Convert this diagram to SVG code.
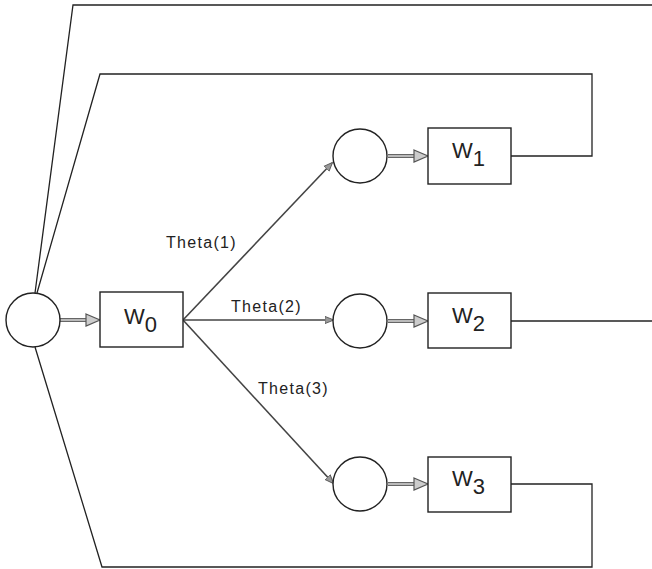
<svg xmlns="http://www.w3.org/2000/svg" width="652" height="569" viewBox="0 0 652 569">
  <style>
    .node { fill: #fff; stroke: #222; stroke-width: 1.4; }
    .wire { fill: none; stroke: #222; stroke-width: 1.3; }
    .theta { fill: none; stroke: #444; stroke-width: 1.6; }
    .feed { stroke: #666; stroke-width: 4; }
    .feed-in { stroke: #d0d0d0; stroke-width: 1.6; }
    .lbl { font-family: "Liberation Sans", Arial, sans-serif; font-size: 16px; letter-spacing: 1.3px; fill: #222; }
    .w { font-family: "Liberation Sans", Arial, sans-serif; font-size: 22px; fill: #222; }
  </style>
  <defs>
    <marker id="tip" viewBox="0 0 10 10" refX="9" refY="5" markerWidth="9" markerHeight="9" markerUnits="userSpaceOnUse" orient="auto">
      <path d="M0,1 L10,5 L0,9 Z" fill="#999" stroke="#555" stroke-width="1"/>
    </marker>
  </defs>

  <g id="connectors">
    <!-- feedback wires -->
    <polyline class="wire" points="652,5 73,5 35,293"/>
    <polyline class="wire" points="511,156 592,156 592,74 100,74 37,293"/>
    <line class="wire" x1="511" y1="321" x2="652" y2="321"/>
    <polyline class="wire" points="511,484 592,484 592,567 102,567 35,347"/>
    <!-- theta links -->
    <line class="theta" x1="183" y1="320" x2="332" y2="163" marker-end="url(#tip)"/>
    <line class="theta" x1="183" y1="320" x2="333" y2="320" marker-end="url(#tip)"/>
    <line class="theta" x1="183" y1="320" x2="333" y2="483" marker-end="url(#tip)"/>
    <!-- feed arrows -->
    <g>
      <line class="feed" x1="60" y1="320" x2="88" y2="320"/>
      <line class="feed-in" x1="60" y1="320" x2="88" y2="320"/>
      <path d="M86,314 L100,320 L86,326 Z" fill="#ccc" stroke="#555" stroke-width="1.2"/>
    </g>
    <g>
      <line class="feed" x1="388" y1="156" x2="416" y2="156"/>
      <line class="feed-in" x1="388" y1="156" x2="416" y2="156"/>
      <path d="M414,150 L428,156 L414,162 Z" fill="#ccc" stroke="#555" stroke-width="1.2"/>
    </g>
    <g>
      <line class="feed" x1="388" y1="321" x2="416" y2="321"/>
      <line class="feed-in" x1="388" y1="321" x2="416" y2="321"/>
      <path d="M414,315 L428,321 L414,327 Z" fill="#ccc" stroke="#555" stroke-width="1.2"/>
    </g>
    <g>
      <line class="feed" x1="388" y1="484" x2="416" y2="484"/>
      <line class="feed-in" x1="388" y1="484" x2="416" y2="484"/>
      <path d="M414,478 L428,484 L414,490 Z" fill="#ccc" stroke="#555" stroke-width="1.2"/>
    </g>
    <text class="lbl" x="166" y="248">Theta(1)</text>
    <text class="lbl" x="231" y="312">Theta(2)</text>
    <text class="lbl" x="258" y="394">Theta(3)</text>
  </g>

  <g id="input">
    <circle class="node" cx="33" cy="320" r="27"/>
  </g>
  <g id="w0">
    <rect class="node" x="100" y="292" width="83" height="55"/>
    <text class="w" x="124" y="324">W<tspan dy="8">0</tspan></text>
  </g>
  <g id="sum1">
    <circle class="node" cx="360" cy="156" r="27"/>
  </g>
  <g id="w1">
    <rect class="node" x="428" y="128" width="83" height="56"/>
    <text class="w" x="452" y="158">W<tspan dy="8">1</tspan></text>
  </g>
  <g id="sum2">
    <circle class="node" cx="360" cy="321" r="27"/>
  </g>
  <g id="w2">
    <rect class="node" x="428" y="293" width="83" height="55"/>
    <text class="w" x="452" y="323">W<tspan dy="8">2</tspan></text>
  </g>
  <g id="sum3">
    <circle class="node" cx="360" cy="484" r="27"/>
  </g>
  <g id="w3">
    <rect class="node" x="428" y="457" width="83" height="55"/>
    <text class="w" x="452" y="486">W<tspan dy="8">3</tspan></text>
  </g>
</svg>
